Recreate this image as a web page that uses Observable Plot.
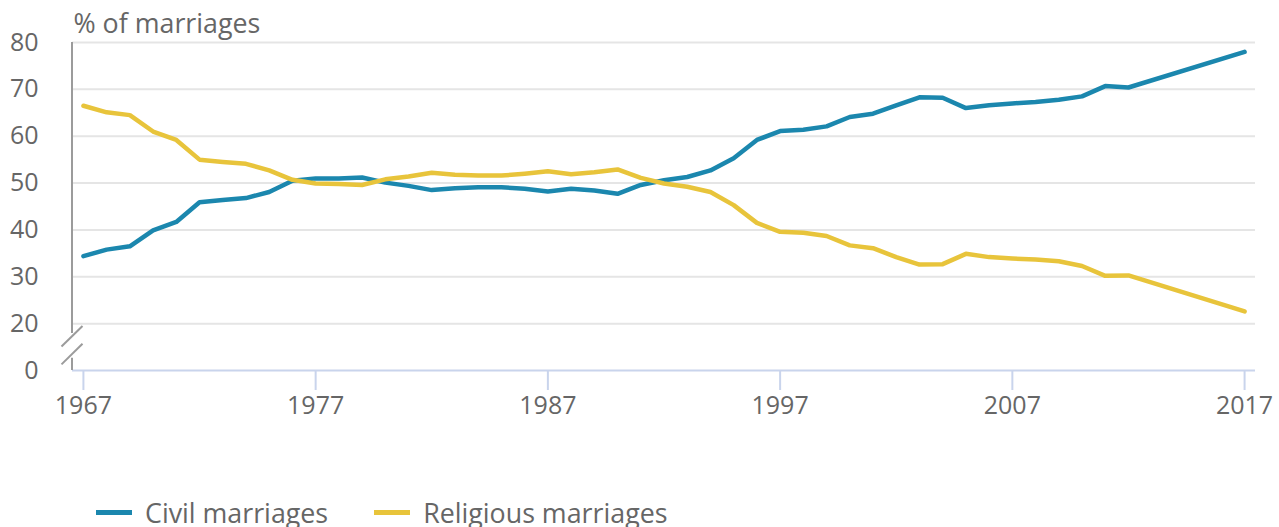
<!DOCTYPE html>
<html>
<head>
<meta charset="utf-8">
<script src="https://cdn.jsdelivr.net/npm/d3@7"></script>
<script src="https://cdn.jsdelivr.net/npm/@observablehq/plot@0.6"></script>
<style>
  html, body { margin: 0; padding: 0; background: #fff; }
  #legend { display: flex; align-items: center; margin-top: 77px; margin-left: 96px; height: 30px;
            font-family: "Open Sans", sans-serif; font-size: 26.8px; color: #666; }
  .item { display: flex; align-items: center; margin-right: 46px; }
  .sw { display: inline-block; width: 36px; height: 5px; margin-right: 13px; }
</style>
</head>
<body>
<div id="chart"></div>
<div id="legend"></div>
<script>
const years = [1967,1968,1969,1970,1971,1972,1973,1974,1975,1976,1977,1978,1979,1980,1981,1982,1983,1984,1985,1986,1987,1988,1989,1990,1991,1992,1993,1994,1995,1996,1997,1998,1999,2000,2001,2002,2003,2004,2005,2006,2007,2008,2009,2010,2011,2012,2017];
const civil = [34.4,35.8,36.5,39.9,41.7,45.9,46.4,46.8,48.1,50.5,51.0,51.0,51.2,50.1,49.4,48.5,48.9,49.1,49.1,48.8,48.2,48.8,48.4,47.7,49.6,50.6,51.3,52.7,55.3,59.2,61.1,61.4,62.1,64.1,64.8,66.6,68.3,68.2,66.0,66.6,67.0,67.3,67.8,68.5,70.7,70.4,78.0];
const religious = [66.5,65.1,64.5,61.0,59.2,55.0,54.5,54.1,52.7,50.7,49.9,49.8,49.6,50.8,51.4,52.2,51.8,51.6,51.6,52.0,52.5,51.9,52.3,52.9,51.1,49.9,49.2,48.1,45.3,41.5,39.6,39.4,38.7,36.7,36.1,34.2,32.6,32.7,34.9,34.2,33.9,33.7,33.3,32.3,30.2,30.3,22.6];
const seriesNames = ["Civil marriages", "Religious marriages"];
const seriesColors = ["#1b87ae", "#e8c43b"];
const xTicks = [1967, 1977, 1987, 1997, 2007, 2017];
const yTicks = [10, 20, 30, 40, 50, 60, 70, 80];   // 10 is drawn as "0" (broken axis)
const gridTicks = [20, 30, 40, 50, 60, 70, 80];
const yTitle = "% of marriages";

const data = years.flatMap((yr, i) => [
  {year: yr, value: civil[i], series: seriesNames[0]},
  {year: yr, value: religious[i], series: seriesNames[1]}
]);

// axis spine with a break between "0" and "20"
function axisBreak(index, scales, values, dimensions) {
  const y = scales.y;
  const x0 = dimensions.marginLeft;
  const g = d3.create("svg:g").attr("stroke", "#9b9b9b").attr("stroke-width", 2).attr("fill", "none");
  g.append("line").attr("x1", x0).attr("x2", x0).attr("y1", y(80)).attr("y2", y(17.9));
  g.append("line").attr("x1", x0).attr("x2", x0).attr("y1", y(12.6)).attr("y2", y(10));
  for (const v of [17.2, 13.4]) {
    const cy = y(v);
    g.append("line").attr("x1", x0 - 10.5).attr("y1", cy + 10.3).attr("x2", x0 + 10.5).attr("y2", cy - 10.3);
  }
  return g.node();
}

const chart = Plot.plot({
  width: 1279,
  height: 420,
  marginLeft: 72,
  marginRight: 24,
  marginTop: 42,
  marginBottom: 50,
  style: {fontFamily: "Open Sans", fontSize: "25px", color: "#666", background: "white"},
  x: {domain: [1966.53, 2017.47], label: null},
  y: {domain: [10, 80], label: null},
  color: {domain: seriesNames, range: seriesColors},
  marks: [
    Plot.gridY(gridTicks, {stroke: "#e5e5e5", strokeOpacity: 1, strokeWidth: 2}),
    Plot.ruleY([10], {stroke: "#c9d4ec", strokeWidth: 2}),
    Plot.axisX({ticks: xTicks, tickFormat: d => String(d), tickSize: 20, tickPadding: 6,
                stroke: "#c9d4ec", strokeWidth: 2, fill: "#666", label: null}),
    Plot.axisY({ticks: yTicks, tickFormat: d => d === 10 ? "0" : String(d), tickSize: 0, tickPadding: 34,
                fill: "#666", label: null}),
    axisBreak,
    Plot.lineY(data, {x: "year", y: "value", z: "series", stroke: "series", strokeWidth: 4.5,
                      strokeLinejoin: "round", strokeLinecap: "round"}),
    Plot.text([yTitle], {frameAnchor: "top-left", textAnchor: "start", lineAnchor: "bottom",
                         dx: 1, dy: -10, fill: "#666", fontSize: 26.8})
  ]
});
document.getElementById("chart").append(chart);

const legend = d3.select("#legend");
seriesNames.forEach((name, i) => {
  const item = legend.append("div").attr("class", "item");
  item.append("span").attr("class", "sw").style("background", seriesColors[i]);
  item.append("span").text(name);
});
</script>
</body>
</html>
